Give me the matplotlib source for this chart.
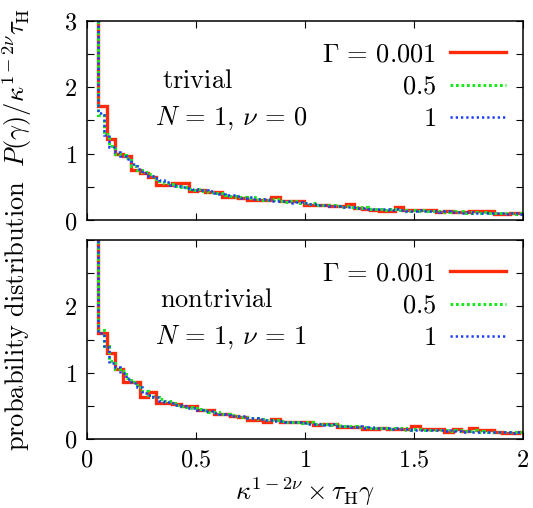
import numpy as np
import matplotlib
matplotlib.use("Agg")
import matplotlib.pyplot as plt

plt.rcParams['mathtext.fontset'] = 'cm'
plt.rcParams['font.family'] = 'serif'
plt.rcParams['font.serif'] = ['DejaVu Serif']

# ---- data -----------------------------------------------------------
x_start = 0.052          # left edge of first visible bin
red_width = 0.0378       # bin width, Gamma = 0.001
fine_width = 0.0252      # bin width, Gamma = 0.5 and 1
spike = 12.0             # first (off-scale) bin

top_red = [1.72, 1.22, 1.00, 0.97, 0.75, 0.71, 0.65, 0.53, 0.53, 0.56,
           0.56, 0.44, 0.45, 0.42, 0.42, 0.35, 0.34, 0.33, 0.30, 0.30,
           0.30, 0.34, 0.29, 0.28, 0.28, 0.22, 0.23, 0.22, 0.21, 0.21,
           0.24, 0.18, 0.17, 0.15, 0.14, 0.14, 0.19, 0.15, 0.15, 0.155,
           0.155, 0.125, 0.13, 0.12, 0.125, 0.13, 0.13, 0.13, 0.09, 0.09,
           0.11, 0.11]
top_green = [1.58, 1.30, 1.12, 1.00, 0.98, 0.93, 0.82, 0.75, 0.72, 0.69,
             0.62, 0.59, 0.56, 0.54, 0.52, 0.49, 0.47, 0.45, 0.47, 0.44,
             0.42, 0.40, 0.41, 0.38, 0.36, 0.35, 0.34, 0.33, 0.34, 0.31,
             0.30, 0.30, 0.31, 0.28, 0.27, 0.28, 0.26, 0.25, 0.24, 0.25,
             0.23, 0.22, 0.23, 0.21, 0.20, 0.21, 0.19, 0.18, 0.19, 0.17,
             0.16, 0.17, 0.15, 0.17, 0.16, 0.15, 0.14, 0.15, 0.14, 0.15,
             0.13, 0.14, 0.13, 0.12, 0.13, 0.12, 0.13, 0.11, 0.12, 0.11,
             0.12, 0.10, 0.11, 0.10, 0.11, 0.10, 0.09, 0.10]
top_blue = [1.62, 1.28, 1.10, 1.02, 0.96, 0.92, 0.84, 0.77, 0.71, 0.67,
            0.64, 0.60, 0.57, 0.53, 0.51, 0.50, 0.48, 0.46, 0.45, 0.45,
            0.43, 0.41, 0.39, 0.38, 0.37, 0.36, 0.33, 0.34, 0.32, 0.31,
            0.31, 0.29, 0.29, 0.28, 0.28, 0.26, 0.27, 0.25, 0.24, 0.24,
            0.22, 0.23, 0.21, 0.21, 0.20, 0.19, 0.20, 0.18, 0.18, 0.17,
            0.17, 0.16, 0.16, 0.15, 0.16, 0.15, 0.14, 0.14, 0.15, 0.13,
            0.14, 0.13, 0.12, 0.13, 0.12, 0.12, 0.11, 0.12, 0.11, 0.11,
            0.10, 0.11, 0.10, 0.10, 0.09, 0.10, 0.10, 0.09]

bot_red = [1.60, 1.29, 1.05, 0.86, 0.86, 0.64, 0.71, 0.54, 0.54, 0.53,
           0.49, 0.50, 0.44, 0.44, 0.37, 0.37, 0.35, 0.33, 0.29, 0.29,
           0.26, 0.30, 0.25, 0.25, 0.25, 0.26, 0.21, 0.23, 0.23, 0.18,
           0.18, 0.18, 0.15, 0.15, 0.17, 0.15, 0.15, 0.15, 0.19, 0.15,
           0.15, 0.15, 0.11, 0.15, 0.12, 0.17, 0.14, 0.14, 0.11, 0.095,
           0.095, 0.10]
bot_green = [1.64, 1.40, 1.18, 1.06, 1.02, 0.92, 0.86, 0.79, 0.72, 0.66,
             0.64, 0.60, 0.57, 0.54, 0.52, 0.50, 0.48, 0.46, 0.45, 0.43,
             0.41, 0.40, 0.38, 0.37, 0.36, 0.35, 0.33, 0.32, 0.32, 0.30,
             0.29, 0.28, 0.28, 0.27, 0.26, 0.26, 0.25, 0.24, 0.25, 0.23,
             0.22, 0.22, 0.21, 0.22, 0.20, 0.19, 0.19, 0.18, 0.18, 0.17,
             0.17, 0.16, 0.17, 0.15, 0.16, 0.16, 0.14, 0.15, 0.15, 0.14,
             0.14, 0.13, 0.14, 0.13, 0.12, 0.13, 0.12, 0.12, 0.13, 0.11,
             0.12, 0.11, 0.11, 0.10, 0.11, 0.10, 0.10, 0.10]
bot_blue = [1.60, 1.38, 1.15, 1.08, 0.99, 0.90, 0.85, 0.78, 0.70, 0.67,
            0.63, 0.58, 0.56, 0.55, 0.51, 0.49, 0.47, 0.47, 0.44, 0.42,
            0.42, 0.39, 0.38, 0.36, 0.35, 0.34, 0.34, 0.32, 0.31, 0.30,
            0.29, 0.29, 0.27, 0.27, 0.26, 0.25, 0.25, 0.24, 0.23, 0.23,
            0.22, 0.21, 0.22, 0.20, 0.20, 0.19, 0.18, 0.19, 0.17, 0.18,
            0.16, 0.17, 0.16, 0.15, 0.16, 0.15, 0.15, 0.14, 0.14, 0.13,
            0.14, 0.13, 0.13, 0.12, 0.13, 0.12, 0.11, 0.12, 0.11, 0.11,
            0.11, 0.10, 0.11, 0.10, 0.10, 0.09, 0.10, 0.10]

gamma_labels = [r'$\Gamma\,=\,0.001$', r'$0.5$', r'$1$']
panel_titles = [r'$\mathrm{trivial}$', r'$\mathrm{nontrivial}$']
panel_params = [r'$N\,=\,1,\,\nu\,=\,0$', r'$N\,=\,1,\,\nu\,=\,1$']
xticks = [0, 0.5, 1, 1.5, 2]
xticklabels = [r'$0$', r'$0.5$', r'$1$', r'$1.5$', r'$2$']
yticks = [0, 0.5, 1, 1.5, 2, 2.5, 3]
top_yticklabels = [r'$0$', '', r'$1$', '', r'$2$', '', r'$3$']
bot_yticklabels = [r'$0$', '', r'$1$', '', r'$2$', '', '']

# ---- styles ---------------------------------------------------------
RED = '#ff2a0a'
GREEN = '#1ee61e'
BLUE = '#1a3cff'
styles = [dict(color=RED, lw=2.4, ls='-'),
          dict(color=GREEN, lw=2.2, ls=(0, (0.9, 0.9))),
          dict(color=BLUE, lw=1.8, ls=(0, (0.9, 1.2)))]

FS_TICK = 17.5
FS_TXT = 19
FS_LAB = 19

fig = plt.figure(figsize=(5.33, 5.08), dpi=100)
W, H = 533, 508
def ax_rect(l, t, r, b):
    return [l / W, 1 - b / H, (r - l) / W, (b - t) / H]

ax_top = fig.add_axes(ax_rect(87, 21, 523, 220))
ax_bot = fig.add_axes(ax_rect(87, 240, 523, 439))

def edges(n, w):
    e = x_start + w * np.arange(n + 1)
    return np.concatenate([[x_start - 0.01], e])

panels = [(ax_top, [top_red, top_green, top_blue], top_yticklabels),
          (ax_bot, [bot_red, bot_green, bot_blue], bot_yticklabels)]

for i, (ax, series, ylabels) in enumerate(panels):
    widths = [red_width, fine_width, fine_width]
    for vals, w, st, lab in zip(series, widths, styles, gamma_labels):
        v = np.concatenate([[spike], vals])
        ax.stairs(v, edges(len(vals), w), baseline=None, label=lab,
                  **st)
    ax.set_xlim(0, 2)
    ax.set_ylim(0, 3)
    ax.set_xticks(xticks)
    ax.set_yticks(yticks)
    ax.set_yticklabels(ylabels, fontsize=FS_TICK)
    if i == 1:
        ax.set_xticklabels(xticklabels, fontsize=FS_TICK)
    else:
        ax.set_xticklabels([])
    ax.tick_params(direction='in', top=True, right=True, length=5,
                   width=0.8, pad=7)
    for sp in ax.spines.values():
        sp.set_linewidth(1.1)
    leg = ax.legend(loc='upper right', frameon=False, markerfirst=False,
                    fontsize=FS_TXT, handlelength=2.1, labelspacing=0.28,
                    handletextpad=0.55, borderaxespad=0.0,
                    bbox_to_anchor=(0.985, 0.95))
    for t in leg.get_texts():
        t.set_ha('right')
    ax.text((160 - 87) / 436 if i else (162 - 87) / 436, 0.70,
            panel_titles[i], transform=ax.transAxes, fontsize=FS_TXT,
            ha='left', va='center')
    ax.text((155 - 87) / 436, 0.51, panel_params[i],
            transform=ax.transAxes, fontsize=FS_TXT, ha='left', va='center')

fig.text(17 / W, 1 - 230 / H,
         r'$\mathrm{probability\ distribution}\ \ P(\gamma)/\kappa^{1-2\nu}\tau_{\mathrm{H}}$',
         rotation=90, fontsize=FS_LAB, ha='center', va='center')
fig.text(305 / W, 1 - 492 / H, r'$\kappa^{1-2\nu}\times\tau_{\mathrm{H}}\gamma$',
         fontsize=FS_LAB, ha='center', va='center')

fig.savefig('out.png', dpi=100)
